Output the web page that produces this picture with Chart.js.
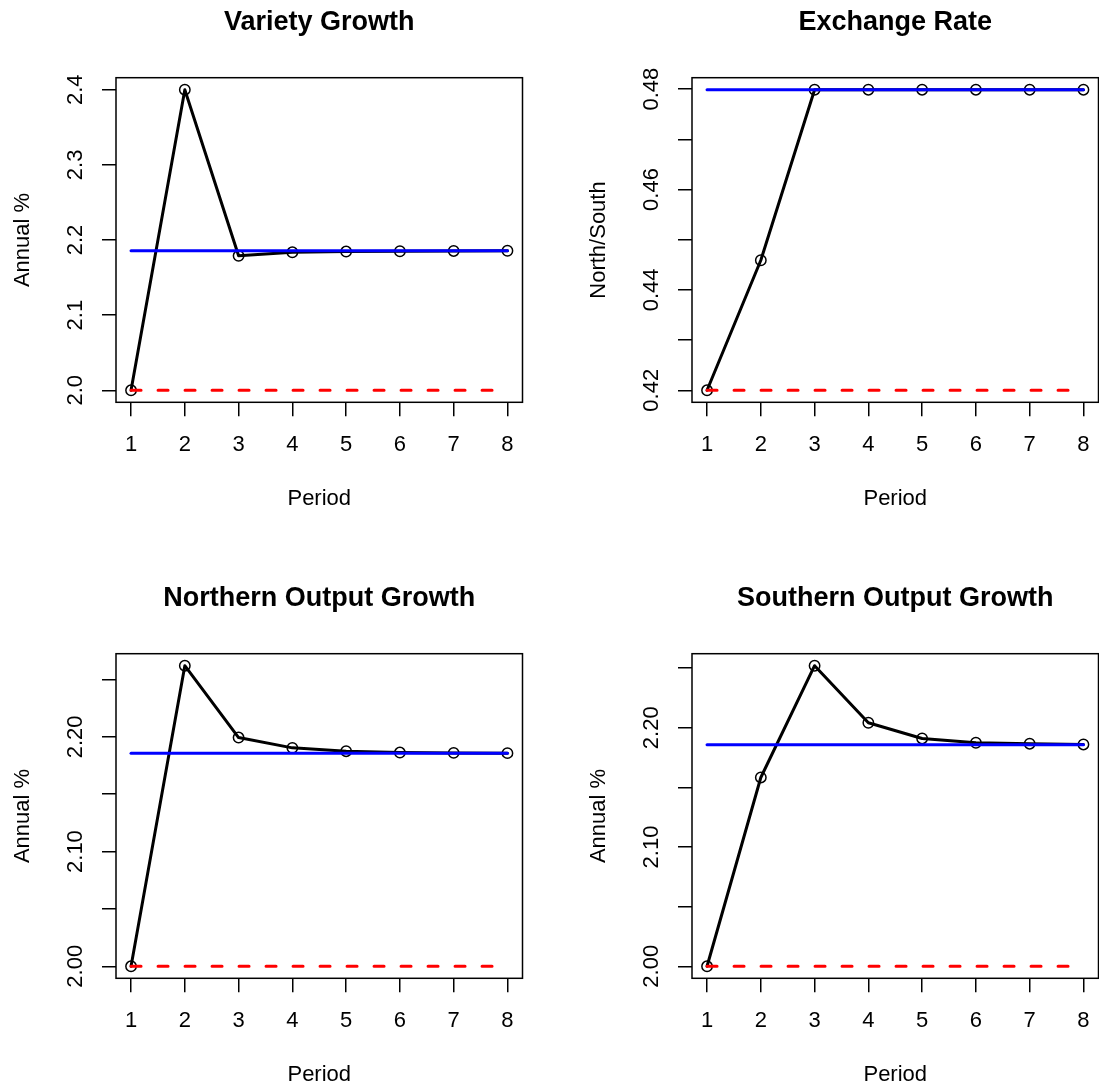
<!DOCTYPE html>
<html><head><meta charset="utf-8">
<script src="https://cdn.jsdelivr.net/npm/chart.js@4.4.0/dist/chart.umd.min.js"></script>
<style>
html,body{margin:0;padding:0;background:#fff;overflow:hidden;width:1099px;height:1089px}
#wrap{position:relative;width:1099px;height:1089px;overflow:hidden;background:#fff}
.panel{position:absolute;width:576px;height:576px}
canvas{display:block}
</style></head>
<body><div id="wrap">
<div class="panel" style="left:0;top:0"><canvas id="c0" width="576" height="576"></canvas></div>
<div class="panel" style="left:576px;top:0"><canvas id="c1" width="576" height="576"></canvas></div>
<div class="panel" style="left:0;top:576px"><canvas id="c2" width="576" height="576"></canvas></div>
<div class="panel" style="left:576px;top:576px"><canvas id="c3" width="576" height="576"></canvas></div>
</div>
<script>
// ---- data ----
const periods = [1, 2, 3, 4, 5, 6, 7, 8];
const titles = ['Variety Growth', 'Exchange Rate', 'Northern Output Growth', 'Southern Output Growth'];
const yTitles = ['Annual %', 'North/South', 'Annual %', 'Annual %'];
const xTitle = 'Period';

const varietyGrowth = [2.0, 2.4, 2.179, 2.1836, 2.1846, 2.185, 2.1854, 2.1857];
const exchangeRate  = [0.4200, 0.4459, 0.47987, 0.47987, 0.47987, 0.47987, 0.47987, 0.47987];
const northOutput   = [2.0, 2.262, 2.1994, 2.1904, 2.1875, 2.1863, 2.186, 2.1858];
const southOutput   = [2.0, 2.1583, 2.252, 2.2042, 2.191, 2.1874, 2.1866, 2.186];

const newSteady = [2.1857, 0.47987, 2.1858, 2.1857];   // blue solid lines
const oldSteady = [2.0, 0.4200, 2.0, 2.0];            // red dashed lines

const yTicks0 = [2.0, 2.1, 2.2, 2.3, 2.4];
const yLabels0 = ['2.0', '2.1', '2.2', '2.3', '2.4'];
const yTicks1 = [0.42, 0.43, 0.44, 0.45, 0.46, 0.47, 0.48];
const yLabels1 = ['0.42', '', '0.44', '', '0.46', '', '0.48'];
const yTicks2 = [2.00, 2.05, 2.10, 2.15, 2.20, 2.25];
const yLabels2 = ['2.00', '', '2.10', '', '2.20', ''];
const yTicks3 = [2.00, 2.05, 2.10, 2.15, 2.20, 2.25];
const yLabels3 = ['2.00', '', '2.10', '', '2.20', ''];

const seriesList = [varietyGrowth, exchangeRate, northOutput, southOutput];
const yTickList = [yTicks0, yTicks1, yTicks2, yTicks3];
const yLabelList = [yLabels0, yLabels1, yLabels2, yLabels3];

// ---- style ----
const FONT = '"Liberation Sans", Arial, Helvetica, sans-serif';
const AX = 22;
Chart.defaults.font.family = FONT;
Chart.defaults.color = '#000';

const rBox = {
  id: 'rBox',
  afterDraw(chart, args, opts) {
    const {ctx, chartArea: a} = chart;
    const y = chart.scales.y;
    ctx.save();
    ctx.strokeStyle = '#000';
    ctx.lineWidth = 1.5;
    ctx.strokeRect(a.left, a.top, a.right - a.left, a.bottom - a.top);
    ctx.fillStyle = '#000';
    ctx.font = AX + 'px ' + FONT;
    ctx.textAlign = 'center';
    ctx.textBaseline = 'middle';
    opts.ticks.forEach((v, i) => {
      const lab = opts.labels[i];
      if (!lab) return;
      const py = y.getPixelForValue(v);
      ctx.save();
      ctx.translate(a.left - 40.5, py);
      ctx.rotate(-Math.PI / 2);
      ctx.fillText(lab, 0, 0);
      ctx.restore();
    });
    ctx.restore();
  }
};

const gridOpts = {
  display: true, drawOnChartArea: false, drawTicks: true,
  tickLength: 14, tickWidth: 1.5, tickColor: '#000', color: '#000', lineWidth: 1.5
};

seriesList.forEach((series, k) => {
  const lo = Math.min(...series), hi = Math.max(...series);
  const pad = (hi - lo) * 0.04;
  const xFirst = periods[0], xLast = periods[periods.length - 1];
  const xpad = (xLast - xFirst) * 0.04;
  new Chart(document.getElementById('c' + k), {
    type: 'line',
    data: {
      datasets: [
        {
          data: series.map((v, i) => ({x: periods[i], y: v})),
          borderColor: '#000', borderWidth: 3, borderCapStyle: 'round', borderJoinStyle: 'round',
          pointRadius: 5.2, pointBorderWidth: 1.5, pointBorderColor: '#000',
          pointBackgroundColor: 'rgba(0,0,0,0)', pointStyle: 'circle',
          tension: 0, fill: false, order: 3
        },
        {
          data: [{x: xFirst, y: newSteady[k]}, {x: xLast, y: newSteady[k]}],
          borderColor: '#0000ff', borderWidth: 3, borderCapStyle: 'round',
          pointRadius: 0, fill: false, order: 2
        },
        {
          data: [{x: xFirst, y: oldSteady[k]}, {x: xLast, y: oldSteady[k]}],
          borderColor: '#ff0000', borderWidth: 3, borderDash: [10, 17], borderCapStyle: 'round',
          pointRadius: 0, fill: false, order: 1
        }
      ]
    },
    options: {
      responsive: false, animation: false, devicePixelRatio: 1,
      events: [],
      layout: {padding: {left: 10, right: 53.5, top: 0, bottom: 63.8}},
      plugins: {
        legend: {display: false},
        tooltip: {enabled: false},
        title: {
          display: true, text: titles[k], fullSize: false, color: '#000',
          font: {size: 27, weight: 'bold', family: FONT},
          padding: {top: 6.8, bottom: 38.5}
        },
        rBox: {ticks: yTickList[k], labels: yLabelList[k]}
      },
      scales: {
        x: {
          type: 'linear', bounds: 'data', min: xFirst - xpad, max: xLast + xpad,
          afterBuildTicks: s => { s.ticks = periods.map(v => ({value: v})); },
          afterFit: s => { s.height = 109.9; },
          grid: gridOpts, border: {display: false},
          ticks: {color: '#000', font: {size: AX}, padding: 15.4, maxRotation: 0, minRotation: 0,
                  autoSkip: false, callback: v => String(v)},
          title: {display: true, text: xTitle, color: '#000', font: {size: AX}, padding: {top: 0, bottom: 0}}
        },
        y: {
          type: 'linear', bounds: 'data', min: lo - pad, max: hi + pad,
          afterBuildTicks: s => { s.ticks = yTickList[k].map(v => ({value: v})); },
          afterFit: s => { s.width = 106; },
          grid: gridOpts, border: {display: false},
          ticks: {autoSkip: false, font: {size: AX}, callback: () => ''},
          title: {display: true, text: yTitles[k], color: '#000', font: {size: AX}, padding: {top: 0, bottom: 0}}
        }
      }
    },
    plugins: [rBox]
  });
});
</script>
</body></html>
